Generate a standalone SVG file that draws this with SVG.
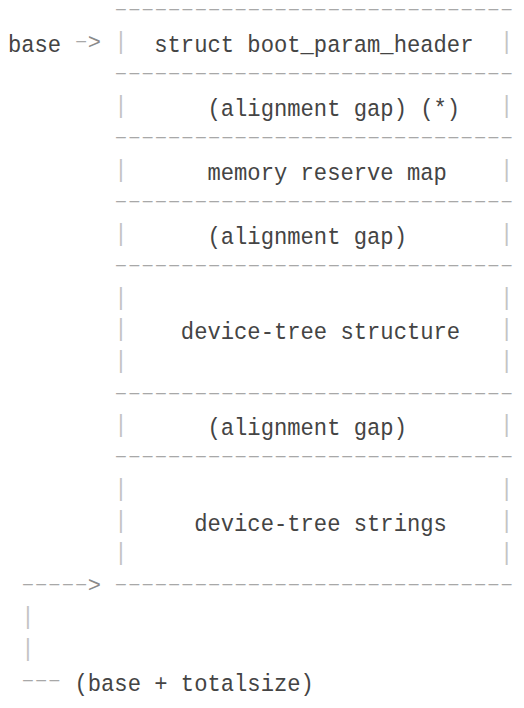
<svg xmlns="http://www.w3.org/2000/svg" width="524" height="708" viewBox="0 0 524 708">
<style>
text { font-family: "Liberation Mono", "DejaVu Sans Mono", monospace; font-size: 24px; }
.lbl { fill: #444444; font-size: 23.9px; }
.dash { font-family: "Liberation Sans", "DejaVu Sans", sans-serif; font-size: 15px; fill: #a8a8a8; }
.bar { fill: #c4c4c4; font-size: 24px; }
.arr { fill: #8a8a8a; font-size: 22px; }
</style>
<rect width="524" height="708" fill="#ffffff"/>
<g id="separators">
  <text class="dash" x="114.35" y="14.2" textLength="399" lengthAdjust="spacingAndGlyphs">------------------------------</text>
  <text class="dash" x="114.35" y="78.1" textLength="399" lengthAdjust="spacingAndGlyphs">------------------------------</text>
  <text class="dash" x="114.35" y="142" textLength="399" lengthAdjust="spacingAndGlyphs">------------------------------</text>
  <text class="dash" x="114.35" y="205.8" textLength="399" lengthAdjust="spacingAndGlyphs">------------------------------</text>
  <text class="dash" x="114.35" y="269.7" textLength="399" lengthAdjust="spacingAndGlyphs">------------------------------</text>
  <text class="dash" x="114.35" y="397.5" textLength="399" lengthAdjust="spacingAndGlyphs">------------------------------</text>
  <text class="dash" x="114.35" y="461.4" textLength="399" lengthAdjust="spacingAndGlyphs">------------------------------</text>
  <text class="dash" x="114.35" y="589.1" textLength="399" lengthAdjust="spacingAndGlyphs">------------------------------</text>
</g>
<g id="node-header">
  <text class="bar" x="114.35" y="48.9" textLength="13.3" lengthAdjust="spacingAndGlyphs">|</text>
  <text class="lbl" x="154.25" y="51.9" textLength="319.2" lengthAdjust="spacingAndGlyphs">struct boot_param_header</text>
  <text class="bar" x="500.05" y="48.9" textLength="13.3" lengthAdjust="spacingAndGlyphs">|</text>
</g>
<g id="node-gap1">
  <text class="bar" x="114.35" y="112.8" textLength="13.3" lengthAdjust="spacingAndGlyphs">|</text>
  <text class="lbl" x="207.45" y="115.8" textLength="252.7" lengthAdjust="spacingAndGlyphs">(alignment gap) (*)</text>
  <text class="bar" x="500.05" y="112.8" textLength="13.3" lengthAdjust="spacingAndGlyphs">|</text>
</g>
<g id="node-memreserve">
  <text class="bar" x="114.35" y="176.7" textLength="13.3" lengthAdjust="spacingAndGlyphs">|</text>
  <text class="lbl" x="207.45" y="179.7" textLength="239.4" lengthAdjust="spacingAndGlyphs">memory reserve map</text>
  <text class="bar" x="500.05" y="176.7" textLength="13.3" lengthAdjust="spacingAndGlyphs">|</text>
</g>
<g id="node-gap2">
  <text class="bar" x="114.35" y="240.6" textLength="13.3" lengthAdjust="spacingAndGlyphs">|</text>
  <text class="lbl" x="207.45" y="243.6" textLength="199.5" lengthAdjust="spacingAndGlyphs">(alignment gap)</text>
  <text class="bar" x="500.05" y="240.6" textLength="13.3" lengthAdjust="spacingAndGlyphs">|</text>
</g>
<g id="node-dt-struct">
  <text class="bar" x="114.35" y="304.5" textLength="13.3" lengthAdjust="spacingAndGlyphs">|</text>
  <text class="bar" x="500.05" y="304.5" textLength="13.3" lengthAdjust="spacingAndGlyphs">|</text>
  <text class="bar" x="114.35" y="336.4" textLength="13.3" lengthAdjust="spacingAndGlyphs">|</text>
  <text class="lbl" x="180.85" y="339.4" textLength="279.3" lengthAdjust="spacingAndGlyphs">device-tree structure</text>
  <text class="bar" x="500.05" y="336.4" textLength="13.3" lengthAdjust="spacingAndGlyphs">|</text>
  <text class="bar" x="114.35" y="368.3" textLength="13.3" lengthAdjust="spacingAndGlyphs">|</text>
  <text class="bar" x="500.05" y="368.3" textLength="13.3" lengthAdjust="spacingAndGlyphs">|</text>
</g>
<g id="node-gap3">
  <text class="bar" x="114.35" y="432.2" textLength="13.3" lengthAdjust="spacingAndGlyphs">|</text>
  <text class="lbl" x="207.45" y="435.2" textLength="199.5" lengthAdjust="spacingAndGlyphs">(alignment gap)</text>
  <text class="bar" x="500.05" y="432.2" textLength="13.3" lengthAdjust="spacingAndGlyphs">|</text>
</g>
<g id="node-dt-strings">
  <text class="bar" x="114.35" y="496.1" textLength="13.3" lengthAdjust="spacingAndGlyphs">|</text>
  <text class="bar" x="500.05" y="496.1" textLength="13.3" lengthAdjust="spacingAndGlyphs">|</text>
  <text class="bar" x="114.35" y="528" textLength="13.3" lengthAdjust="spacingAndGlyphs">|</text>
  <text class="lbl" x="194.15" y="531" textLength="252.7" lengthAdjust="spacingAndGlyphs">device-tree strings</text>
  <text class="bar" x="500.05" y="528" textLength="13.3" lengthAdjust="spacingAndGlyphs">|</text>
  <text class="bar" x="114.35" y="560" textLength="13.3" lengthAdjust="spacingAndGlyphs">|</text>
  <text class="bar" x="500.05" y="560" textLength="13.3" lengthAdjust="spacingAndGlyphs">|</text>
</g>
<g id="node-base">
  <text class="lbl" x="7.95" y="51.9" textLength="53.2" lengthAdjust="spacingAndGlyphs">base</text>
</g>
<g id="node-end">
  <text class="lbl" x="74.45" y="690.7" textLength="239.4" lengthAdjust="spacingAndGlyphs">(base + totalsize)</text>
</g>
<g id="connectors">
  <text y="49"><tspan class="dash" x="74.45" y="46.2" textLength="13.3" lengthAdjust="spacingAndGlyphs">-</tspan><tspan class="arr" x="87.75" y="49.2">&gt;</tspan></text>
  <text y="589.1"><tspan class="dash" x="21.25" y="589.1" textLength="66.5" lengthAdjust="spacingAndGlyphs">-----</tspan><tspan class="arr" x="87.75" y="592.1">&gt;</tspan></text>
  <text class="bar" x="21.25" y="623.9" textLength="13.3" lengthAdjust="spacingAndGlyphs">|</text>
  <text class="bar" x="21.25" y="655.8" textLength="13.3" lengthAdjust="spacingAndGlyphs">|</text>
  <text class="dash" x="21.25" y="684.9" textLength="39.9" lengthAdjust="spacingAndGlyphs">---</text>
</g>
</svg>
